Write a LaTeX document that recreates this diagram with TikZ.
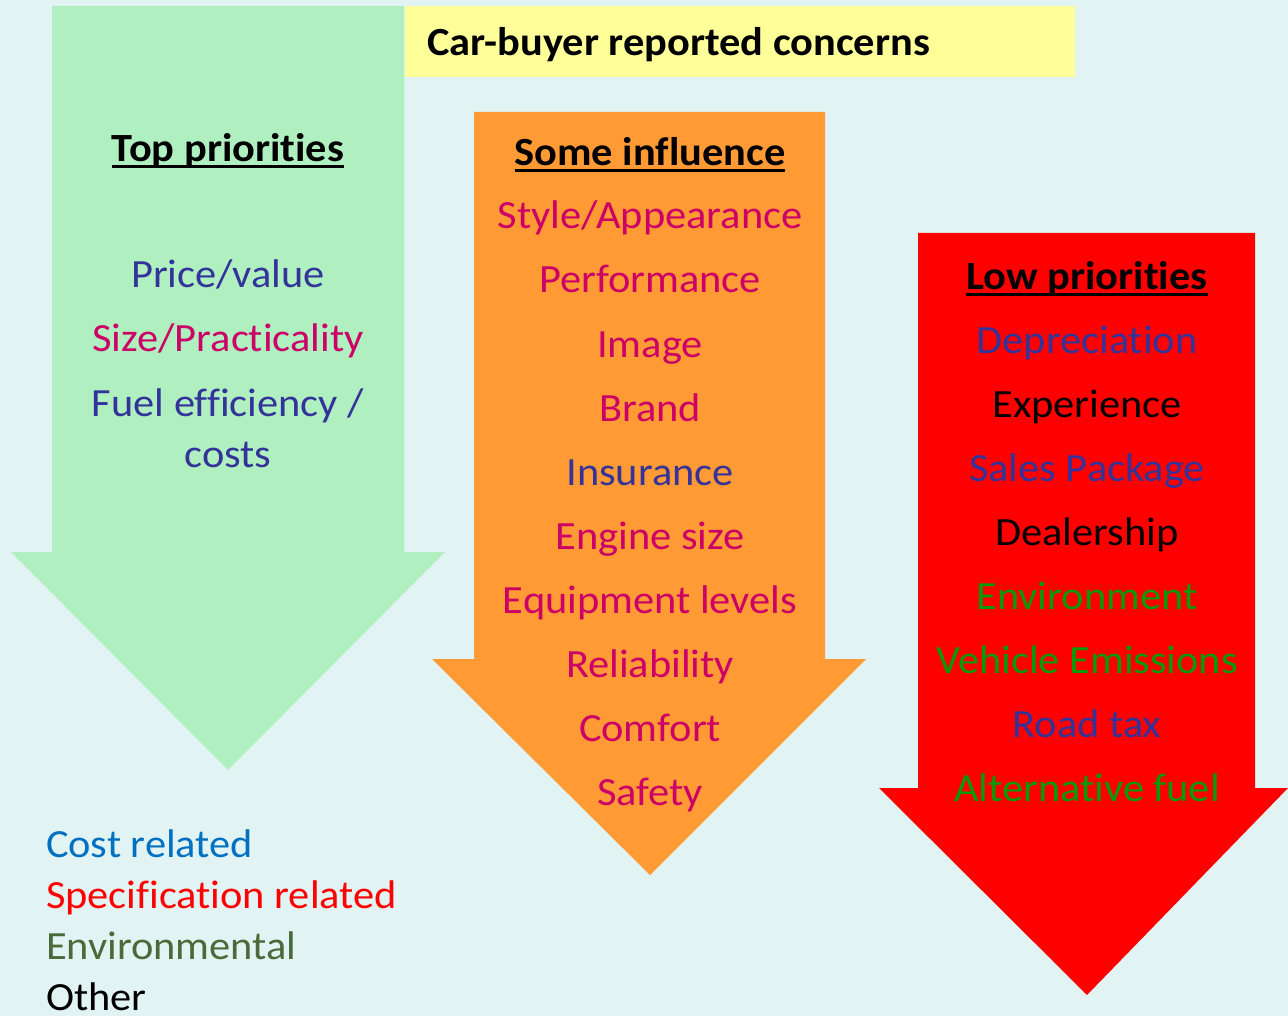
\documentclass[tikz,border=0pt]{standalone}
\usepackage{fontspec}
\setmainfont[FakeStretch=1.06,Ligatures=NoCommon]{Carlito}
\definecolor{bgcol}{HTML}{E2F3F3}
\definecolor{greenbody}{HTML}{AFEFC0}
\definecolor{yellowbox}{HTML}{FFFF99}
\definecolor{orangebody}{HTML}{FF9A35}
\definecolor{redbody}{HTML}{FF0000}
\definecolor{navy}{HTML}{333399}
\definecolor{magenta}{HTML}{CC0066}
\definecolor{envgreen}{HTML}{089A08}
\definecolor{costblue}{HTML}{0070C0}
\definecolor{legendgreen}{HTML}{4A6A3A}
\begin{document}
\begin{tikzpicture}[x=1pt,y=-1pt,
  every node/.style={inner sep=0pt,outer sep=0pt,font=\fontsize{40}{48}\selectfont},
  item/.style={anchor=base},
  head/.style={anchor=base,font=\fontsize{40}{48}\selectfont\bfseries},
  headline/.style={line width=3pt},
  legend/.style={anchor=base west}]
% background
\fill[bgcol] (0,0) rectangle (1288,1016);
\useasboundingbox (0,0) rectangle (1288,1016);
% arrows
\fill[greenbody] (52,6) -- (404,6) -- (404,552) -- (445,552) -- (228,770) -- (11,552) -- (52,552) -- cycle;
\fill[yellowbox] (405,6) rectangle (1075,77);
\fill[orangebody] (474,112) -- (825,112) -- (825,659) -- (866,659) -- (650,875) -- (432,659) -- (474,659) -- cycle;
\fill[redbody] (918,233) -- (1255,233) -- (1255,788) -- (1288,788) -- (1087,995) -- (879,788) -- (918,788) -- cycle;
% title
\node[anchor=base west,font=\fontsize{40}{48}\selectfont\bfseries] (title) at (427,56) {Car-buyer reported concerns};
% top priorities
\node[head] (tp) at (228,162) {Top priorities};
\draw[headline] ([yshift=-5pt]tp.base west) -- ([yshift=-5pt]tp.base east);
\node[item,text=navy] (tp1) at (228,288) {Price/value};
\node[item,text=magenta] (tp2) at (228,352) {Size/Practicality};
\node[item,text=navy] (tp3) at (228,416) {Fuel efficiency /};
\node[item,text=navy] (tp4) at (228,467) {costs};
% some influence
\node[head] (si) at (650,166) {Some influence};
\draw[headline] ([yshift=-5pt]si.base west) -- ([yshift=-5pt]si.base east);
\node[item,text=magenta] (si1) at (650,229) {Style/Appearance};
\node[item,text=magenta] (si2) at (650,293) {Performance};
\node[item,text=magenta] (si3) at (650,357) {Image};
\node[item,text=magenta] (si4) at (650,421) {Brand};
\node[item,text=navy] (si5) at (650,485) {Insurance};
\node[item,text=magenta] (si6) at (650,549) {Engine size};
\node[item,text=magenta] (si7) at (650,613) {Equipment levels};
\node[item,text=magenta] (si8) at (650,677) {Reliability};
\node[item,text=magenta] (si9) at (650,741) {Comfort};
\node[item,text=magenta] (si10) at (650,805) {Safety};
% low priorities
\node[head] (lp) at (1087,290) {Low priorities};
\draw[headline] ([yshift=-5pt]lp.base west) -- ([yshift=-5pt]lp.base east);
\node[item,text=navy] (lp1) at (1087,353) {Depreciation};
\node[item,text=black] (lp2) at (1087,417) {Experience};
\node[item,text=navy] (lp3) at (1087,481) {Sales Package};
\node[item,text=black] (lp4) at (1087,545) {Dealership};
\node[item,text=envgreen] (lp5) at (1087,609) {Environment};
\node[item,text=envgreen] (lp6) at (1087,673) {Vehicle Emissions};
\node[item,text=navy] (lp7) at (1087,737) {Road tax};
\node[item,text=envgreen] (lp8) at (1087,801) {Alternative fuel};
% legend
\node[legend,text=costblue] (lg1) at (46,857) {Cost related};
\node[legend,text=red] (lg2) at (46,908) {Specification related};
\node[legend,text=legendgreen] (lg3) at (46,959) {Environmental};
\node[legend,text=black] (lg4) at (46,1010) {Other};
\end{tikzpicture}
\end{document}
